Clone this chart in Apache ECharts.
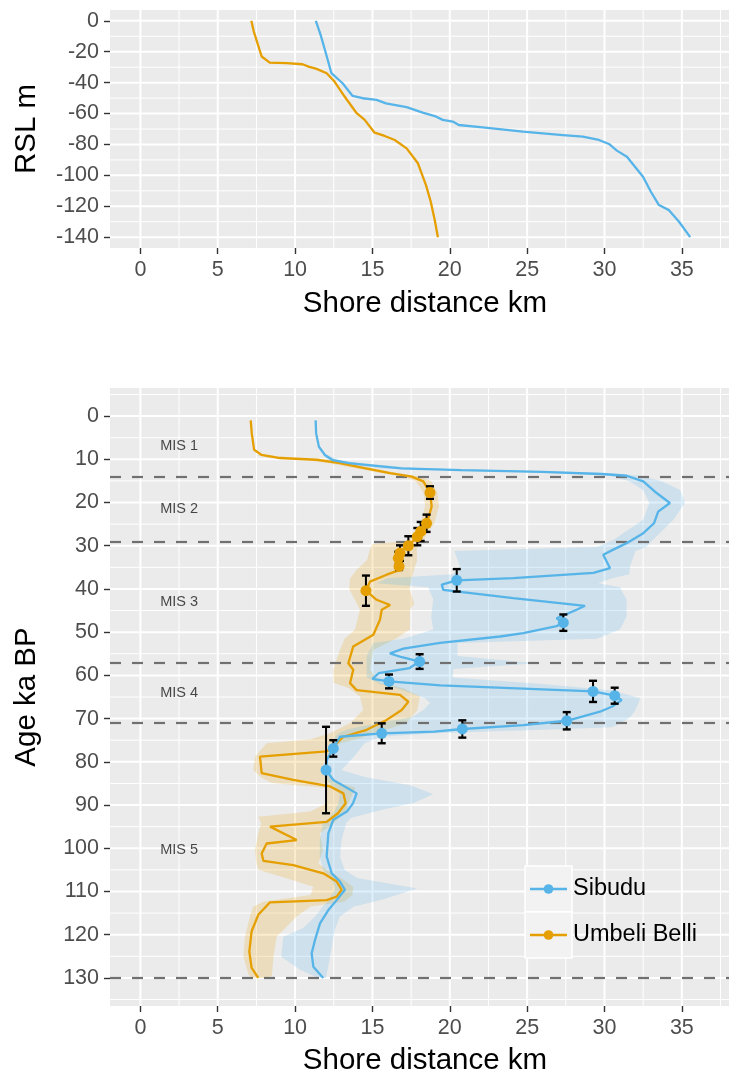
<!DOCTYPE html>
<html>
<head>
<meta charset="utf-8">
<script src="https://cdn.jsdelivr.net/npm/echarts@6/dist/echarts.min.js"></script>
<style>
  html, body { margin: 0; padding: 0; background: #ffffff; overflow: hidden; }
  #chart { width: 729px; height: 1074px; }
</style>
</head>
<body>
<div id="chart"></div>
<script>
// ---------------- data ----------------
const seriesNames = ['Sibudu', 'Umbeli Belli'];
const seriesColors = ['#56B4E9', '#E69F00'];

// Upper panel: relative sea level (m) against distance to the shore (km)
const rslSibudu = [0, -9.1, -21, -33.9, -40.4, -48.6, -50.1, -51.2, -53.4, -55.9, -59.4, -61.6, -64.1, -65.2, -67.4, -68.9, -71.7, -73.9, -75, -77.1, -79.7, -84, -87.9, -94.4, -100.9, -110.6, -119.2, -122.5, -130, -140];
const shoreAtRslSibudu = [11.34, 11.65, 11.99, 12.35, 13.07, 13.72, 14.37, 15.27, 15.87, 17.21, 18.25, 19.03, 19.54, 20.19, 20.58, 22.13, 24.72, 27.31, 28.6, 29.64, 30.29, 30.8, 31.45, 31.97, 32.49, 33.0, 33.52, 34.17, 34.82, 35.54];
const rslUmbeli = [0, -6.9, -12.3, -23.1, -27, -27.4, -28.1, -29.6, -31.1, -33.9, -39.3, -49, -59.8, -64.1, -72.4, -74.5, -77.1, -82.5, -92.2, -106.3, -117.1, -129, -140];
const shoreAtRslUmbeli = [7.17, 7.33, 7.5, 7.84, 8.36, 9.45, 10.48, 10.87, 11.39, 12.04, 12.55, 13.2, 13.98, 14.5, 15.14, 15.79, 16.44, 17.21, 17.94, 18.46, 18.77, 19.03, 19.23];

// Lower panel: shore distance through time (age in ka BP)
const ageSibudu = [1.0, 4.0, 7.1, 9.0, 10.2, 10.9, 12.1, 12.5, 12.9, 13.4, 13.8, 15.1, 17.8, 20.1, 22.1, 24.8, 27.1, 29.4, 30.9, 32.1, 35.2, 36.3, 37.5, 38.0, 39.0, 40.2, 42.1, 43.9, 44.8, 46.8, 47.8, 48.6, 50.2, 51.0, 52.5, 53.8, 54.9, 55.8, 56.8, 58.3, 59.5, 60.8, 61.4, 62.3, 63.7, 64.7, 65.7, 67.2, 68.4, 70.5, 71.5, 72.4, 73.0, 73.4, 74.2, 76.9, 79.5, 81.9, 84.2, 87.3, 89.6, 91.5, 93.4, 96.5, 101.9, 105.8, 107.7, 109.6, 112.0, 114.3, 117.4, 121.2, 124.3, 127.4, 130.0];
const shoreSibudu = [11.33, 11.36, 11.54, 11.93, 12.44, 13.48, 16.85, 20.74, 25.93, 29.82, 31.43, 32.51, 33.37, 34.23, 33.47, 33.2, 32.51, 31.43, 30.57, 29.92, 30.36, 29.28, 24.1, 20.45, 19.48, 19.58, 24.1, 28.74, 28.2, 26.9, 27.34, 26.9, 24.75, 23.25, 19.37, 17.0, 16.13, 16.9, 18.05, 17.4, 15.4, 15.0, 16.07, 19.4, 29.26, 30.66, 31.11, 30.5, 29.71, 27.56, 24.75, 20.81, 19.0, 15.6, 12.9, 12.47, 12.06, 12.0, 12.47, 13.98, 13.74, 13.35, 12.47, 12.15, 12.04, 12.37, 12.9, 13.22, 12.69, 12.15, 11.61, 11.29, 11.07, 11.18, 11.82];

const ageUmbeli = [1.0, 4.0, 7.8, 9.0, 9.7, 10.1, 10.9, 12.0, 13.2, 14.0, 15.1, 17.7, 20.9, 24.8, 26.7, 27.9, 30.0, 31.3, 33.3, 35.6, 36.7, 38.3, 40.4, 42.5, 43.7, 44.8, 47.1, 50.6, 53.3, 57.2, 58.7, 61.8, 63.4, 64.5, 66.1, 68.0, 70.3, 72.6, 74.2, 76.5, 77.6, 78.8, 82.6, 84.2, 85.7, 87.3, 89.6, 91.9, 93.9, 95.0, 98.1, 98.9, 101.2, 102.9, 103.9, 105.8, 107.7, 109.6, 111.2, 112.0, 112.5, 115.4, 119.2, 123.9, 127.7, 130.0];
const shoreUmbeli = [7.13, 7.2, 7.35, 7.84, 9.02, 11.4, 12.9, 14.4, 16.14, 17.54, 18.29, 18.72, 18.83, 18.52, 18.12, 17.9, 17.32, 16.78, 16.67, 16.78, 15.92, 14.84, 14.58, 15.27, 16.14, 15.6, 15.49, 15.06, 13.76, 13.44, 13.76, 13.55, 13.98, 16.78, 17.32, 16.89, 15.92, 14.63, 13.12, 12.47, 12.04, 7.73, 7.84, 9.88, 12.26, 13.12, 13.27, 12.77, 12.04, 8.38, 10.1, 8.16, 7.84, 7.95, 9.88, 11.82, 12.69, 13.01, 12.69, 12.04, 8.38, 7.62, 7.19, 7.04, 7.19, 7.62];

// Uncertainty envelopes (shore distance range at each age)
const bandAgeSibudu = [9.0, 10.2, 10.9, 12.1, 12.5, 12.9, 13.4, 13.8, 15.1, 17.1, 20.1, 24.0, 28.6, 30.3, 31.2, 34.8, 36.6, 37.5, 38.7, 39.6, 42.5, 46.4, 49.4, 51.5, 52.5, 55.5, 57.2, 58.5, 60.5, 62.0, 63.5, 65.3, 66.4, 68.0, 69.5, 70.3, 72.0, 72.6, 73.4, 74.2, 75.7, 78.8, 81.9, 83.5, 85.5, 87.5, 89.6, 91.1, 93.0, 94.2, 98.1, 101.9, 105.0, 106.9, 109.3, 111.9, 113.5, 115.8, 118.5, 120.5, 125.1, 128.1, 130.0];
const bandLowSibudu = [11.8, 12.1, 12.9, 15.5, 19.0, 24.0, 28.3, 30.3, 31.6, 32.5, 32.9, 32.5, 30.6, 29.5, 20.3, 20.66, 20.2, 16.0, 15.3, 18.6, 18.93, 18.8, 18.93, 17.0, 15.06, 14.63, 14.63, 14.63, 14.63, 15.5, 17.0, 18.4, 18.72, 18.3, 17.64, 16.5, 14.0, 13.34, 12.8, 12.6, 12.47, 12.04, 11.7, 11.9, 12.4, 12.9, 12.8, 12.6, 12.2, 11.8, 11.6, 11.6, 11.8, 12.3, 12.6, 12.2, 11.8, 11.3, 10.5, 9.24, 9.1, 10.32, 11.5];
const bandHighSibudu = [12.1, 12.9, 14.3, 18.3, 22.5, 27.8, 31.0, 32.3, 33.7, 34.9, 35.2, 34.45, 33.15, 32.7, 32.0, 31.65, 31.6, 30.5, 29.6, 31.0, 31.43, 31.43, 31.0, 29.5, 20.5, 20.5, 25.6, 20.2, 20.2, 26.0, 30.5, 32.3, 32.2, 32.0, 31.7, 31.4, 30.5, 26.0, 19.0, 15.5, 14.5, 13.8, 13.0, 14.5, 17.5, 18.93, 17.6, 15.6, 13.6, 13.3, 13.0, 12.9, 13.2, 14.0, 17.9, 15.6, 13.8, 12.9, 12.6, 12.47, 12.26, 12.1, 12.0];

const bandAgeUmbeli = [9.0, 9.7, 10.1, 10.9, 12.0, 13.2, 14.0, 15.1, 17.7, 20.9, 24.8, 27.9, 28.9, 29.6, 30.7, 33.3, 35.5, 37.6, 40.0, 43.4, 44.8, 49.4, 51.5, 54.1, 58.7, 61.7, 63.0, 64.9, 68.0, 71.1, 73.4, 74.8, 75.7, 78.8, 81.9, 83.6, 84.9, 86.0, 89.6, 91.5, 92.7, 94.2, 96.5, 100.4, 103.5, 105.0, 107.0, 108.9, 110.8, 112.3, 113.5, 115.8, 120.5, 125.1, 129.3, 130.0];
const bandLowUmbeli = [7.5, 8.3, 10.5, 12.2, 13.8, 15.6, 17.0, 17.8, 18.3, 18.4, 18.1, 17.5, 17.3, 15.0, 14.85, 14.65, 14.0, 13.55, 13.5, 14.0, 14.19, 13.87, 13.2, 12.9, 12.47, 12.5, 13.5, 14.19, 14.4, 13.55, 12.26, 11.0, 8.16, 7.41, 7.3, 7.8, 8.5, 12.0, 12.04, 11.0, 7.62, 7.8, 7.62, 7.41, 7.5, 7.62, 9.5, 11.18, 11.0, 8.0, 7.3, 7.08, 6.76, 6.66, 7.0, 7.2];
const bandHighUmbeli = [8.3, 9.8, 12.3, 13.6, 15.0, 16.7, 18.1, 18.8, 19.2, 19.3, 19.0, 18.4, 18.3, 18.0, 17.86, 17.89, 17.7, 17.53, 17.4, 17.7, 17.42, 17.42, 16.5, 15.06, 14.84, 15.5, 17.0, 18.07, 17.9, 17.2, 15.06, 14.0, 12.9, 12.15, 11.6, 12.3, 12.9, 13.9, 13.44, 13.3, 12.9, 12.5, 11.6, 11.8, 11.5, 12.04, 13.0, 13.76, 13.7, 13.2, 11.0, 10.1, 8.81, 8.6, 8.5, 8.3];

// Dated layers: age, shore distance and age uncertainty (ka)
const dateAgeSibudu = [38.0, 47.8, 56.8, 61.4, 63.7, 64.7, 70.5, 72.4, 73.4, 76.9, 81.9];
const dateShoreSibudu = [20.45, 27.34, 18.05, 16.07, 29.26, 30.66, 27.56, 20.81, 15.6, 12.47, 12.0];
const dateErrSibudu = [2.6, 1.9, 1.7, 1.6, 2.45, 1.85, 2.0, 2.0, 2.3, 1.9, 10.0];
const dateAgeUmbeli = [17.7, 24.8, 26.7, 27.9, 30.0, 31.7, 32.9, 34.8, 40.4];
const dateShoreUmbeli = [18.72, 18.50, 18.12, 17.90, 17.32, 16.78, 16.67, 16.72, 14.58];
const dateErrUmbeli = [1.45, 2.0, 2.2, 2.0, 2.2, 1.8, 1.5, 0.8, 3.5];

// Marine isotope stages: boundaries (ka) and names
const misBounds = [0, 14, 29, 57, 71, 130];
const misNames = ['MIS 1', 'MIS 2', 'MIS 3', 'MIS 4', 'MIS 5'];
const misLabelX = 2.5;

// Axis breaks
const shoreTicks = [0, 5, 10, 15, 20, 25, 30, 35];
const shoreMinor = [2.5, 7.5, 12.5, 17.5, 22.5, 27.5, 32.5, 37.5];
const rslTicks = [0, -20, -40, -60, -80, -100, -120, -140];
const rslMinor = [-10, -30, -50, -70, -90, -110, -130];
const ageTicks = [0, 10, 20, 30, 40, 50, 60, 70, 80, 90, 100, 110, 120, 130];
const ageMinor = [-5, 5, 15, 25, 35, 45, 55, 65, 75, 85, 95, 105, 115, 125, 135];

// ---------------- chart ----------------
const FONT = '"Liberation Sans", Arial, sans-serif';
const PANEL = '#EBEBEB';
// the panels run on past the right edge of the page
const SHORE_MIN = -1.965, SHORE_MAX = 38.76;
const PANEL_LEFT = 110, PANEL_WIDTH = 630;

const zip = (xs, ys) => xs.map((x, i) => [x, ys[i]]);

function valueAxis(gridIndex, ticks, extra) {
  return Object.assign({
    type: 'value', gridIndex,
    axisLine: { show: false, onZero: false },
    axisTick: { show: true, length: 6, customValues: ticks, lineStyle: { color: '#333333', width: 1.4 } },
    axisLabel: { customValues: ticks, color: '#4D4D4D', fontSize: 21.5, fontFamily: FONT, margin: 11 },
    splitLine: { show: false },
    nameTextStyle: { color: '#000000', fontSize: 29.5, fontFamily: FONT },
    nameLocation: 'middle'
  }, extra);
}

// Panel grid lines (minor first, then major) drawn across the whole plotting area
function gridLineSeries(xi, yi, xMajor, xMinor, yMajor, yMinor) {
  const data = [];
  xMinor.forEach(v => data.push([v, 0, 0]));
  yMinor.forEach(v => data.push([v, 1, 0]));
  xMajor.forEach(v => data.push([v, 0, 1]));
  yMajor.forEach(v => data.push([v, 1, 1]));
  return {
    type: 'custom', xAxisIndex: xi, yAxisIndex: yi, silent: true, z: 0,
    dimensions: ['v', 'dir', 'major'],
    encode: { x: -1, y: -1 },
    data,
    renderItem(params, api) {
      const cs = params.coordSys;
      const v = api.value(0), horizontal = api.value(1) === 1, major = api.value(2) === 1;
      const style = { stroke: '#FFFFFF', lineWidth: major ? 2 : 1 };
      if (horizontal) {
        const y = api.coord([0, v])[1];
        return { type: 'line', shape: { x1: cs.x, y1: y, x2: cs.x + cs.width, y2: y }, style };
      }
      const x = api.coord([v, 0])[0];
      return { type: 'line', shape: { x1: x, y1: cs.y, x2: x, y2: cs.y + cs.height }, style };
    }
  };
}

function bandSeries(ages, low, high, color, xi, yi) {
  return {
    type: 'custom', xAxisIndex: xi, yAxisIndex: yi, silent: true, z: 1,
    data: [[low[0], ages[0]]],
    renderItem(params, api) {
      const pts = [];
      for (let i = 0; i < ages.length; i++) pts.push(api.coord([low[i], ages[i]]));
      for (let i = ages.length - 1; i >= 0; i--) pts.push(api.coord([high[i], ages[i]]));
      return { type: 'polygon', shape: { points: pts }, style: { fill: color } };
    }
  };
}

function errorBarSeries(ages, shore, err, xi, yi) {
  return {
    type: 'custom', xAxisIndex: xi, yAxisIndex: yi, silent: true, z: 4,
    encode: { x: 0, y: 1 },
    data: ages.map((a, i) => [shore[i], a, err[i]]),
    renderItem(params, api) {
      const x = api.value(0), y = api.value(1), e = api.value(2);
      const p1 = api.coord([x, y - e]);
      const p2 = api.coord([x, y + e]);
      const cap = 4;
      const st = { stroke: '#000000', lineWidth: 2 };
      const capSt = { stroke: '#000000', lineWidth: 2.4 };
      return {
        type: 'group',
        children: [
          { type: 'line', shape: { x1: p1[0], y1: p1[1], x2: p2[0], y2: p2[1] }, style: st },
          { type: 'line', shape: { x1: p1[0] - cap, y1: p1[1], x2: p1[0] + cap, y2: p1[1] }, style: capSt },
          { type: 'line', shape: { x1: p2[0] - cap, y1: p2[1], x2: p2[0] + cap, y2: p2[1] }, style: capSt }
        ]
      };
    }
  };
}

function lineSeries(data, color, xi, yi) {
  return {
    type: 'line', xAxisIndex: xi, yAxisIndex: yi, data, z: 3,
    showSymbol: false, symbol: 'none', silent: true,
    lineStyle: { color, width: 2.3 }
  };
}

function pointSeries(ages, shore, color) {
  return {
    type: 'scatter', xAxisIndex: 1, yAxisIndex: 1, z: 5, silent: true,
    data: zip(shore, ages), symbolSize: 11,
    itemStyle: { color, opacity: 1 }
  };
}

const misLabels = misNames.map((n, i) => ({
  name: n, value: [misLabelX, (misBounds[i] + misBounds[i + 1]) / 2]
}));

// Legend keys drawn inside the lower panel
const legendGraphic = [];
seriesNames.forEach((name, i) => {
  const top = 866 + i * 46;
  legendGraphic.push(
    { type: 'rect', shape: { x: 525, y: top, width: 47, height: 46 }, style: { fill: '#F2F2F2', stroke: '#FFFFFF', lineWidth: 1.5 }, z: 100 },
    { type: 'line', shape: { x1: 530, y1: top + 23, x2: 567, y2: top + 23 }, style: { stroke: seriesColors[i], lineWidth: 2.3 }, z: 101 },
    { type: 'circle', shape: { cx: 548.5, cy: top + 23, r: 4.8 }, style: { fill: seriesColors[i] }, z: 102 },
    { type: 'text', x: 573, y: top + 23, style: { text: name, fill: '#000000', fontSize: 23.5, fontFamily: FONT, textVerticalAlign: 'middle', textAlign: 'left' }, z: 102 }
  );
});

const option = {
  animation: false,
  backgroundColor: '#FFFFFF',
  textStyle: { fontFamily: FONT },
  grid: [
    { left: PANEL_LEFT, top: 10, width: PANEL_WIDTH, height: 238, show: true, backgroundColor: PANEL, borderWidth: 0, containLabel: false, outerBoundsMode: 'none' },
    { left: PANEL_LEFT, top: 388, width: PANEL_WIDTH, height: 618, show: true, backgroundColor: PANEL, borderWidth: 0, containLabel: false, outerBoundsMode: 'none' }
  ],
  xAxis: [
    valueAxis(0, shoreTicks, { min: SHORE_MIN, max: SHORE_MAX, position: 'bottom', name: 'Shore distance km', nameGap: 41 }),
    valueAxis(1, shoreTicks, { min: SHORE_MIN, max: SHORE_MAX, position: 'bottom', name: 'Shore distance km', nameGap: 40 })
  ],
  yAxis: [
    valueAxis(0, rslTicks, { min: -147, max: 7, position: 'left', name: 'RSL m', nameGap: 68 }),
    valueAxis(1, ageTicks, { min: -6.5, max: 136.5, inverse: true, position: 'left', name: 'Age ka BP', nameGap: 68 })
  ],
  series: [
    gridLineSeries(0, 0, shoreTicks, shoreMinor, rslTicks, rslMinor),
    gridLineSeries(1, 1, shoreTicks, shoreMinor, ageTicks, ageMinor),
    // upper panel
    lineSeries(zip(shoreAtRslUmbeli, rslUmbeli), seriesColors[1], 0, 0),
    lineSeries(zip(shoreAtRslSibudu, rslSibudu), seriesColors[0], 0, 0),
    // lower panel envelopes
    bandSeries(bandAgeUmbeli, bandLowUmbeli, bandHighUmbeli, 'rgba(230,159,0,0.2)', 1, 1),
    bandSeries(bandAgeSibudu, bandLowSibudu, bandHighSibudu, 'rgba(86,180,233,0.2)', 1, 1),
    // stage labels and boundaries
    {
      type: 'scatter', xAxisIndex: 1, yAxisIndex: 1, z: 2, silent: true,
      data: misLabels, symbolSize: 1, itemStyle: { color: 'rgba(0,0,0,0)' },
      label: { show: true, position: 'inside', formatter: '{b}', color: '#1A1A1A', fontSize: 14.5, fontFamily: FONT },
      markLine: {
        silent: true, symbol: 'none', z: 2,
        label: { show: false },
        lineStyle: { color: '#707070', width: 2.2, type: [11, 11] },
        data: misBounds.slice(1).map(v => ({ yAxis: v }))
      }
    },
    // lower panel lines
    lineSeries(zip(shoreUmbeli, ageUmbeli), seriesColors[1], 1, 1),
    lineSeries(zip(shoreSibudu, ageSibudu), seriesColors[0], 1, 1),
    // dated layers
    errorBarSeries(dateAgeUmbeli, dateShoreUmbeli, dateErrUmbeli, 1, 1),
    errorBarSeries(dateAgeSibudu, dateShoreSibudu, dateErrSibudu, 1, 1),
    pointSeries(dateAgeUmbeli, dateShoreUmbeli, seriesColors[1]),
    pointSeries(dateAgeSibudu, dateShoreSibudu, seriesColors[0])
  ],
  graphic: legendGraphic
};

const chart = echarts.init(document.getElementById('chart'), null, { renderer: 'canvas' });
chart.setOption(option);
</script>
</body>
</html>
